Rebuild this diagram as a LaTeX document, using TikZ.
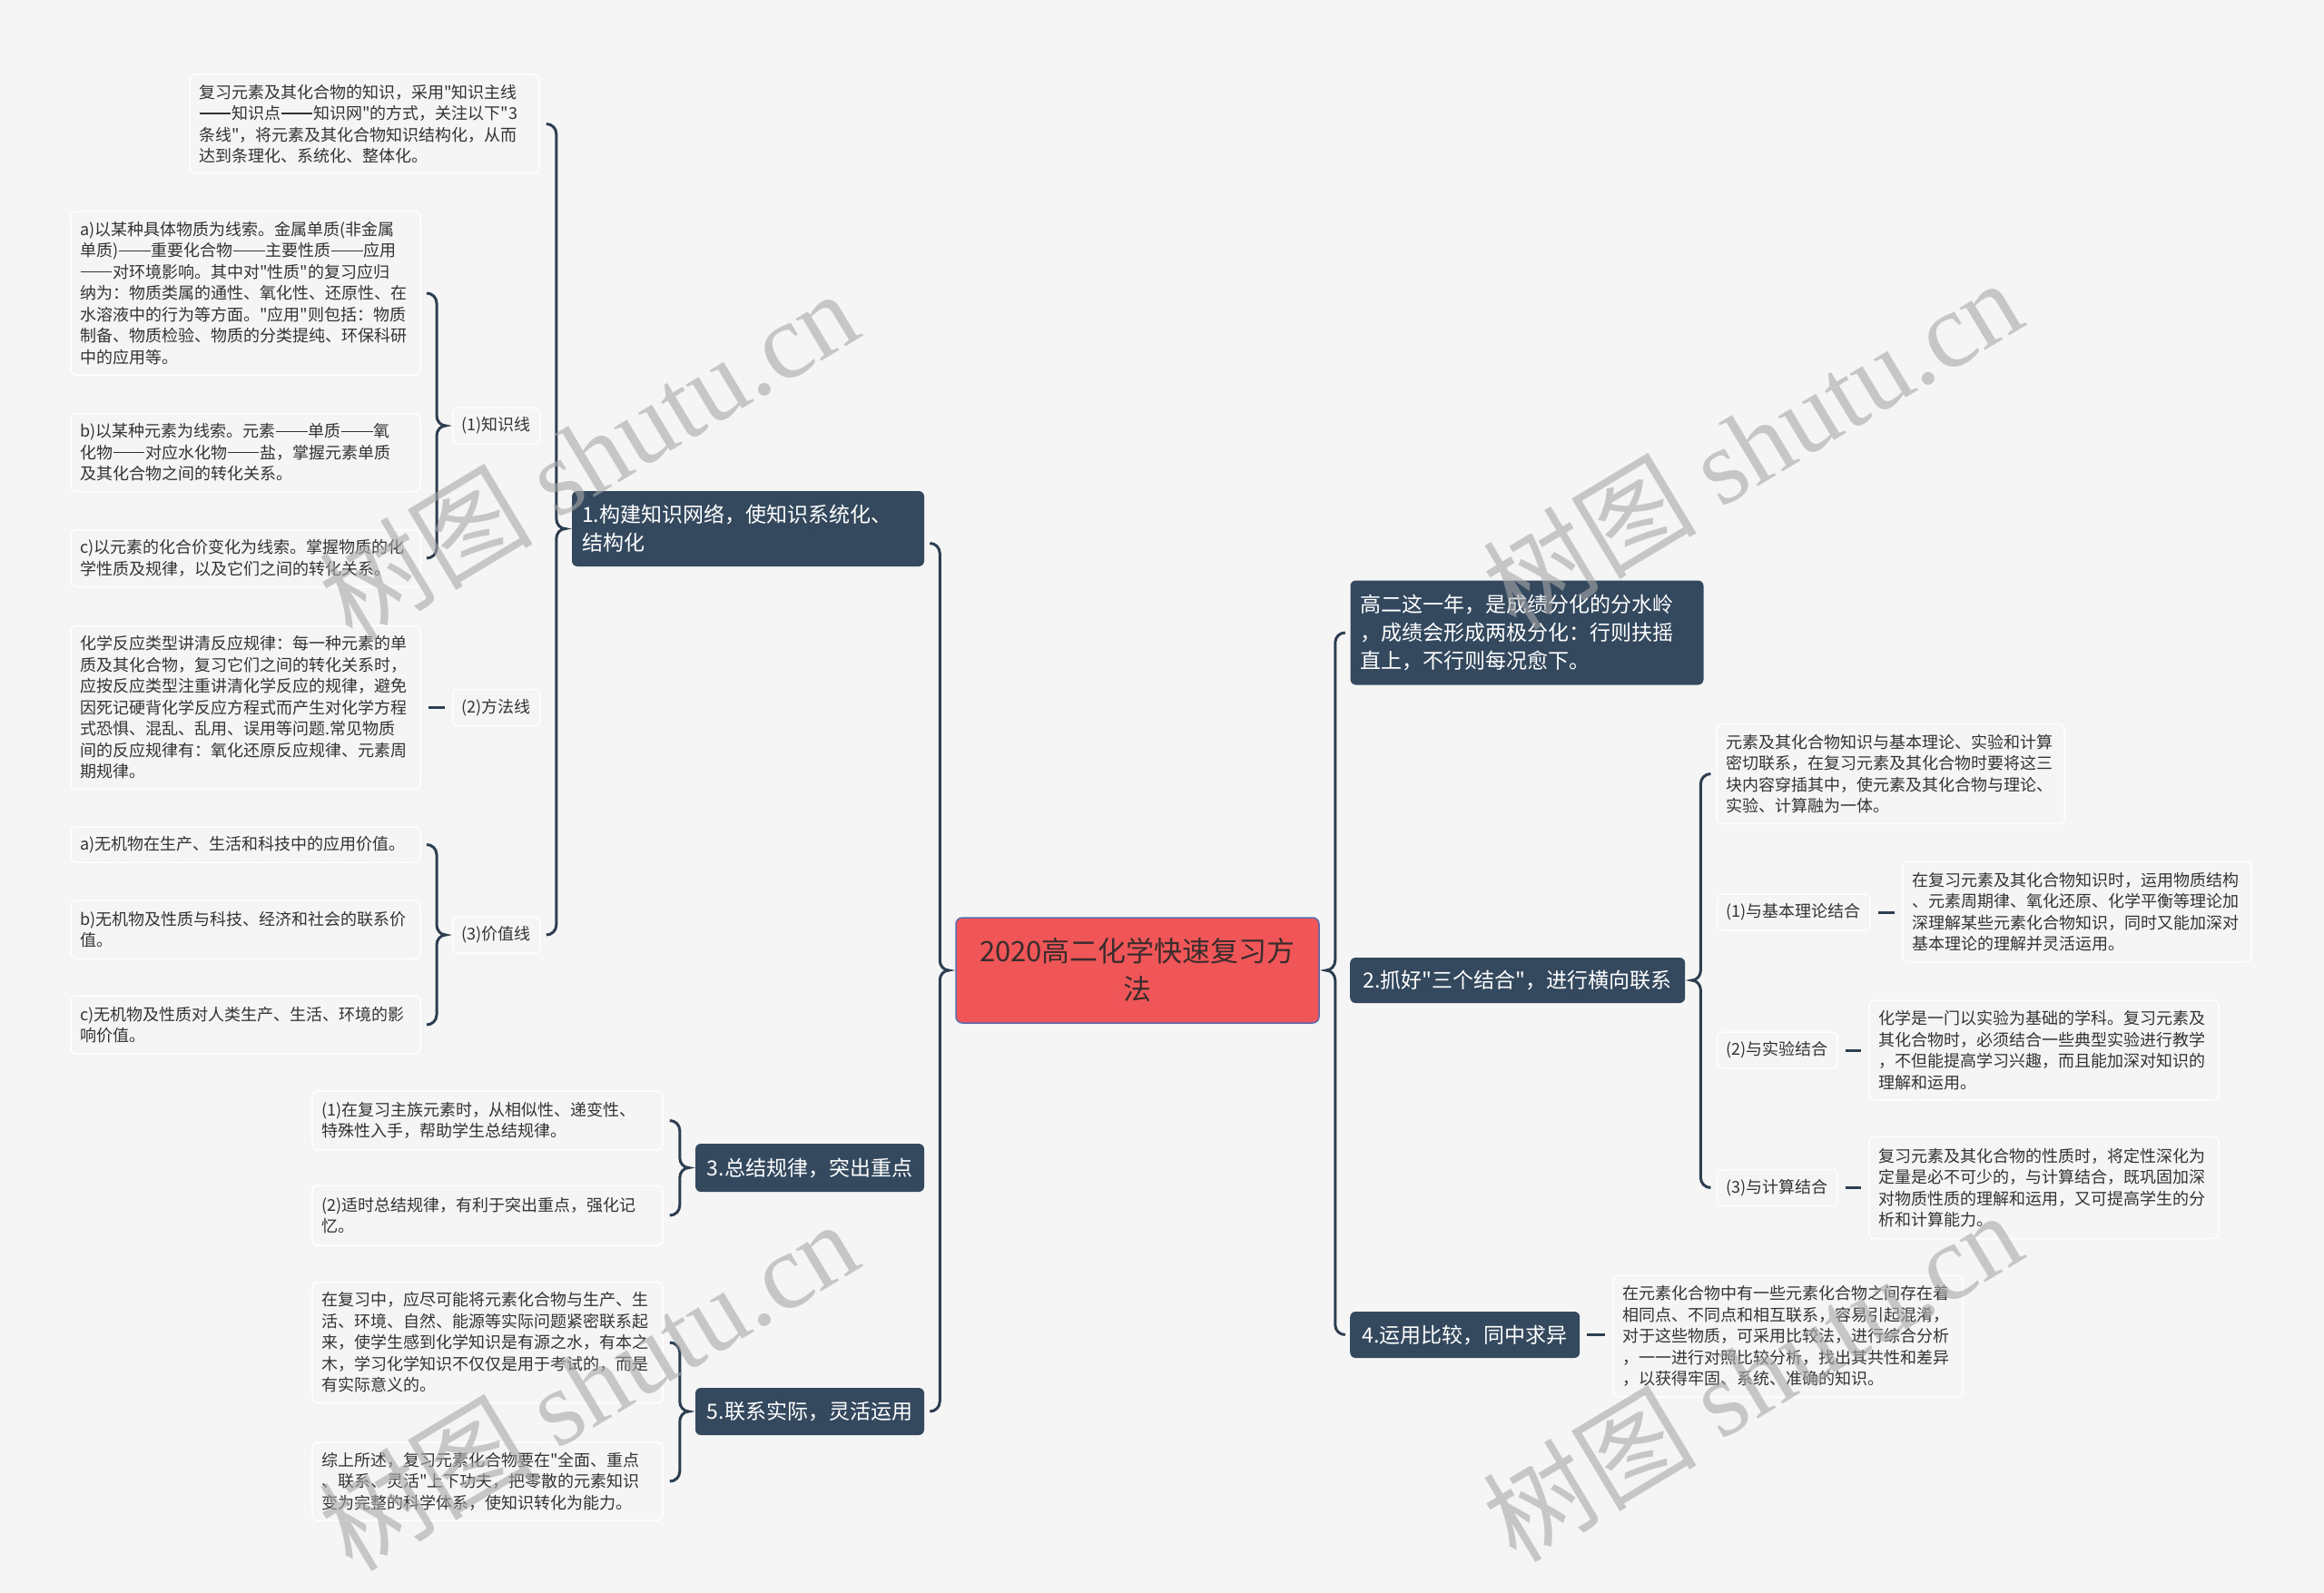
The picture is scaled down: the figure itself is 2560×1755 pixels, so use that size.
\documentclass[tikz,border=0pt]{standalone}
\usepackage{fontspec}
\setmainfont{Noto Sans CJK SC}[Ligatures=TeXOff]
\newfontfamily\wmserif{Liberation Serif}
\usetikzlibrary{calc}
\definecolor{bgc}{HTML}{F5F5F5}
\definecolor{navy}{HTML}{34495E}
\definecolor{linec}{HTML}{2C3E50}
\definecolor{txt}{HTML}{333333}
\definecolor{redc}{HTML}{F05658}
\definecolor{redborder}{HTML}{5B6BB0}
\definecolor{ctext}{HTML}{3A2C2C}
\definecolor{wm}{HTML}{A8A8A8}
\newcommand{\mmdd}{\leavevmode\hbox to 2em{\hfil\rule[0.34em]{1.94em}{0.065em}\hfil}}
\tikzset{
  leaf/.style={draw=white, line width=1.5pt, fill=bgc, rounded corners=6pt, align=left,
    font=\fontsize{18}{23.5}\selectfont, text=txt, text width=365pt, inner xsep=10pt, inner ysep=4pt},
  lbl/.style={draw=white, line width=1.5pt, fill=bgc, rounded corners=6pt, anchor=west,
    font=\fontsize{18}{23.5}\selectfont, text=txt, inner xsep=10pt, inner ysep=4pt, minimum height=40pt},
  mainnode/.style={fill=navy, text=white, rounded corners=6pt, align=left,
    font=\fontsize{23}{31}\selectfont, inner xsep=11pt, inner ysep=4pt},
  rootnode/.style={fill=redc, draw=redborder, line width=1.5pt, text=ctext, rounded corners=7pt,
    align=center, font=\fontsize{31}{42}\selectfont, text width=370pt, inner xsep=15pt, minimum height=116pt},
  conn/.style={draw=linec, line width=3pt},
  wmk/.style={text=wm, opacity=0.6, font=\fontsize{118}{118}\selectfont, rotate=31}
}
\newcommand{\mmbraceL}[3]{%
  \draw[conn] let \p1=(#1.west), \p2=(#2), \p3=(#3) in
   (\x1-28pt,\y2) to[out=0,in=90] (\x1-17pt,\y2-11pt)
   -- (\x1-17pt,\y1+11pt) to[out=-90,in=180] (\x1-7pt,\y1)
   to[out=180,in=90] (\x1-17pt,\y1-11pt)
   -- (\x1-17pt,\y3+11pt) to[out=-90,in=0] (\x1-28pt,\y3);}
\newcommand{\mmbraceR}[3]{%
  \draw[conn] let \p1=(#1.east), \p2=(#2), \p3=(#3) in
   (\x1+28pt,\y2) to[out=180,in=90] (\x1+17pt,\y2-11pt)
   -- (\x1+17pt,\y1+11pt) to[out=-90,in=0] (\x1+7pt,\y1)
   to[out=0,in=90] (\x1+17pt,\y1-11pt)
   -- (\x1+17pt,\y3+11pt) to[out=-90,in=180] (\x1+28pt,\y3);}
\newcommand{\mmlink}[2]{%
  \draw[conn] ($(#1.east)+(8,0)$) -- ($(#1.east -| #2.west)+(-8,0)$);}
\begin{document}
\begin{tikzpicture}[x=1pt,y=-1pt]
\fill[bgc] (0,0) rectangle (2560,1755);
\useasboundingbox (0,0) rectangle (2560,1755);

% ---------- left: branch 1 ----------
\node[leaf, minimum height=109pt] (T0) at (401.5,136.5) {复习元素及其化合物的知识，采用"知识主线\\
\mmdd 知识点\mmdd 知识网"的方式，关注以下"3\\
条线"，将元素及其化合物知识结构化，从而\\
达到条理化、系统化、整体化。};
\node[leaf, minimum height=180pt] (a) at (270.5,323) {a)以某种具体物质为线索。金属单质(非金属\\
单质)\mmdd 重要化合物\mmdd 主要性质\mmdd 应用\\
\mmdd 对环境影响。其中对"性质"的复习应归\\
纳为：物质类属的通性、氧化性、还原性、在\\
水溶液中的行为等方面。"应用"则包括：物质\\
制备、物质检验、物质的分类提纯、环保科研\\
中的应用等。};
\node[leaf, minimum height=86pt] (b) at (270.5,498.5) {b)以某种元素为线索。元素\mmdd 单质\mmdd 氧\\
化物\mmdd 对应水化物\mmdd 盐，掌握元素单质\\
及其化合物之间的转化关系。};
\node[leaf, minimum height=63pt] (c) at (270.5,615) {c)以元素的化合价变化为线索。掌握物质的化\\
学性质及规律，以及它们之间的转化关系。};
\node[leaf, minimum height=180pt] (meth) at (270.5,779.5) {化学反应类型讲清反应规律：每一种元素的单\\
质及其化合物，复习它们之间的转化关系时，\\
应按反应类型注重讲清化学反应的规律，避免\\
因死记硬背化学反应方程式而产生对化学方程\\
式恐惧、混乱、乱用、误用等问题.常见物质\\
间的反应规律有：氧化还原反应规律、元素周\\
期规律。};
\node[leaf, minimum height=39pt] (va) at (270.5,930.5) {a)无机物在生产、生活和科技中的应用价值。};
\node[leaf, minimum height=64pt] (vb) at (270.5,1024) {b)无机物及性质与科技、经济和社会的联系价\\
值。};
\node[leaf, minimum height=64pt] (vc) at (270.5,1129) {c)无机物及性质对人类生产、生活、环境的影\\
响价值。};
\node[lbl] (L1) at (498,469) {(1)知识线};
\node[lbl] (L2) at (498,779.5) {(2)方法线};
\node[lbl] (L3) at (498,1030) {(3)价值线};
\node[mainnode, text width=366pt, minimum height=83pt] (N1) at (824,582.5) {1.构建知识网络，使知识系统化、\\
结构化};

% ---------- left: branches 3 and 5 ----------
\node[leaf, text width=366pt, minimum height=65pt] (n3a) at (537,1234.5) {(1)在复习主族元素时，从相似性、递变性、\\
特殊性入手，帮助学生总结规律。};
\node[leaf, text width=366pt, minimum height=66pt] (n3b) at (537,1339) {(2)适时总结规律，有利于突出重点，强化记\\
忆。};
\node[leaf, text width=366pt, minimum height=133pt] (n5a) at (537,1479) {在复习中，应尽可能将元素化合物与生产、生\\
活、环境、自然、能源等实际问题紧密联系起\\
来，使学生感到化学知识是有源之水，有本之\\
木，学习化学知识不仅仅是用于考试的，而是\\
有实际意义的。};
\node[leaf, text width=366pt, minimum height=86pt] (n5b) at (537,1632) {综上所述，复习元素化合物要在"全面、重点\\
、联系、灵活"上下功夫，把零散的元素知识\\
变为完整的科学体系，使知识转化为能力。};
\node[mainnode, minimum width=252pt, minimum height=53pt] (N3) at (892,1286.5) {3.总结规律，突出重点};
\node[mainnode, minimum width=252pt, minimum height=52pt] (N5) at (892,1555) {5.联系实际，灵活运用};

% ---------- root ----------
\node[rootnode] (C) at (1253,1069) {2020高二化学快速复习方\\法};

% ---------- right ----------
\node[mainnode, text width=367pt, minimum height=115pt] (R1) at (1682,697) {高二这一年，是成绩分化的分水岭\\
，成绩会形成两极分化：行则扶摇\\
直上，不行则每况愈下。};
\node[mainnode, anchor=west, align=center, minimum width=369pt, minimum height=50pt] (R2) at (1487,1080) {2.抓好"三个结合"，进行横向联系};
\node[mainnode, anchor=west, align=center, minimum width=253pt, minimum height=51pt] (R4) at (1487,1470.5) {4.运用比较，同中求异};

\node[leaf, text width=363pt, minimum height=110pt] (r2t) at (2082.5,852.5) {元素及其化合物知识与基本理论、实验和计算\\
密切联系，在复习元素及其化合物时要将这三\\
块内容穿插其中，使元素及其化合物与理论、\\
实验、计算融为一体。};
\node[lbl] (r21l) at (1891,1005) {(1)与基本理论结合};
\node[leaf, text width=364pt, minimum height=110pt] (r21t) at (2288,1004.5) {在复习元素及其化合物知识时，运用物质结构\\
、元素周期律、氧化还原、化学平衡等理论加\\
深理解某些元素化合物知识，同时又能加深对\\
基本理论的理解并灵活运用。};
\node[lbl] (r22l) at (1891,1157) {(2)与实验结合};
\node[leaf, minimum height=110pt] (r22t) at (2251.5,1157) {化学是一门以实验为基础的学科。复习元素及\\
其化合物时，必须结合一些典型实验进行教学\\
，不但能提高学习兴趣，而且能加深对知识的\\
理解和运用。};
\node[lbl] (r23l) at (1891,1308.5) {(3)与计算结合};
\node[leaf, minimum height=112pt] (r23t) at (2251.5,1308.5) {复习元素及其化合物的性质时，将定性深化为\\
定量是必不可少的，与计算结合，既巩固加深\\
对物质性质的理解和运用，又可提高学生的分\\
析和计算能力。};
\node[leaf, minimum height=134pt] (R4t) at (1969.5,1472) {在元素化合物中有一些元素化合物之间存在着\\
相同点、不同点和相互联系，容易引起混淆，\\
对于这些物质，可采用比较法，进行综合分析\\
，一一进行对照比较分析，找出其共性和差异\\
，以获得牢固、系统、准确的知识。};

% ---------- connectors ----------
\mmbraceL{L1}{a.east}{c.east}
\mmbraceL{L3}{va.east}{vc.east}
\mmbraceL{N1}{T0.east}{L3.east}
\mmbraceL{N3}{n3a.east}{n3b.east}
\mmbraceL{N5}{n5a.east}{n5b.east}
\mmbraceL{C}{[yshift=-16pt]N1.east}{N5.east}
\mmbraceR{C}{R1.west}{R4.west}
\mmbraceR{R2}{r2t.west}{r23l.west}
\mmlink{meth}{L2}
\mmlink{r21l}{r21t}
\mmlink{r22l}{r22t}
\mmlink{r23l}{r23t}
\mmlink{R4}{R4t}

% ---------- watermarks ----------
\node[wmk] (w1) at (648,500) {树图 {\wmserif shutu.cn}};
\node[wmk] (w2) at (1930,488) {树图 {\wmserif shutu.cn}};
\node[wmk] (w3) at (648,1525) {树图 {\wmserif shutu.cn}};
\node[wmk] (w4) at (1930,1515) {树图 {\wmserif shutu.cn}};
\end{tikzpicture}
\end{document}
